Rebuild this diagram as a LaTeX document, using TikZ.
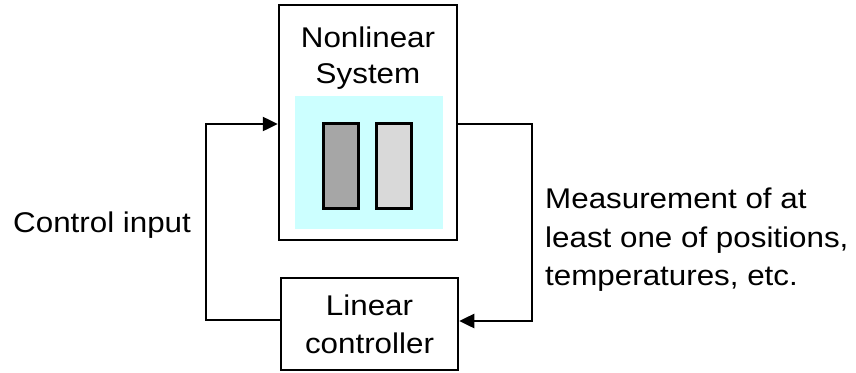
\documentclass[tikz,border=0pt]{standalone}
\usepackage{fontspec}
\setmainfont[FakeStretch=1.1]{Liberation Sans}
\usetikzlibrary{arrows.meta}
\definecolor{cyanbg}{HTML}{CCFFFF}
\definecolor{darkbar}{HTML}{A6A6A6}
\definecolor{lightbar}{HTML}{D9D9D9}
\begin{document}
\begin{tikzpicture}[x=1pt,y=-1pt,
  blk/.style={draw,line width=2.5pt,inner sep=0pt,fill=white},
  bar/.style={draw,line width=2.5pt,inner sep=0pt,minimum width=35pt,minimum height=85pt},
  lbl/.style={anchor=base,inner sep=0pt,font=\fontsize{28.5}{34}\selectfont},
  wire/.style={line width=2.5pt},
  arr/.style={wire,-{Triangle[length=15pt,width=14pt]}}]
\useasboundingbox (0,0) rectangle (856,372);
% blocks
\node[blk,minimum width=178pt,minimum height=235pt] (sys) at (368,122.5) {};
\fill[cyanbg] (295,96) rectangle (443,229);
\node[bar,fill=darkbar] (bar1) at (341,166) {};
\node[bar,fill=lightbar] (bar2) at (394,166) {};
\node[blk,minimum width=177pt,minimum height=92pt] (ctrl) at (369.5,324) {};
% texts
\node[lbl] (t1) at (368,47) {Nonlinear};
\node[lbl] (t2) at (368,83) {System};
\node[lbl] (t3) at (369.5,315) {Linear};
\node[lbl] (t4) at (369.5,353) {controller};
\node[lbl,anchor=base west] (ci) at (13,232) {Control input};
\node[lbl,anchor=base west] (m1) at (545,208) {Measurement of at};
\node[lbl,anchor=base west] (m2) at (545,247) {least one of positions,};
\node[lbl,anchor=base west] (m3) at (545,285) {temperatures, etc.};
% connectors
\coordinate (inB) at (206,320);
\coordinate (inT) at (206,124);
\coordinate (outT) at (532,124);
\coordinate (outB) at (532,321);
\draw[arr] ([yshift=4pt]ctrl.west) -- (inB) -- (inT) -- ([yshift=-1.5pt]sys.west);
\draw[arr] ([yshift=-1.5pt]sys.east) -- (outT) -- (outB) -- ([yshift=3pt]ctrl.east);
\end{tikzpicture}
\end{document}
